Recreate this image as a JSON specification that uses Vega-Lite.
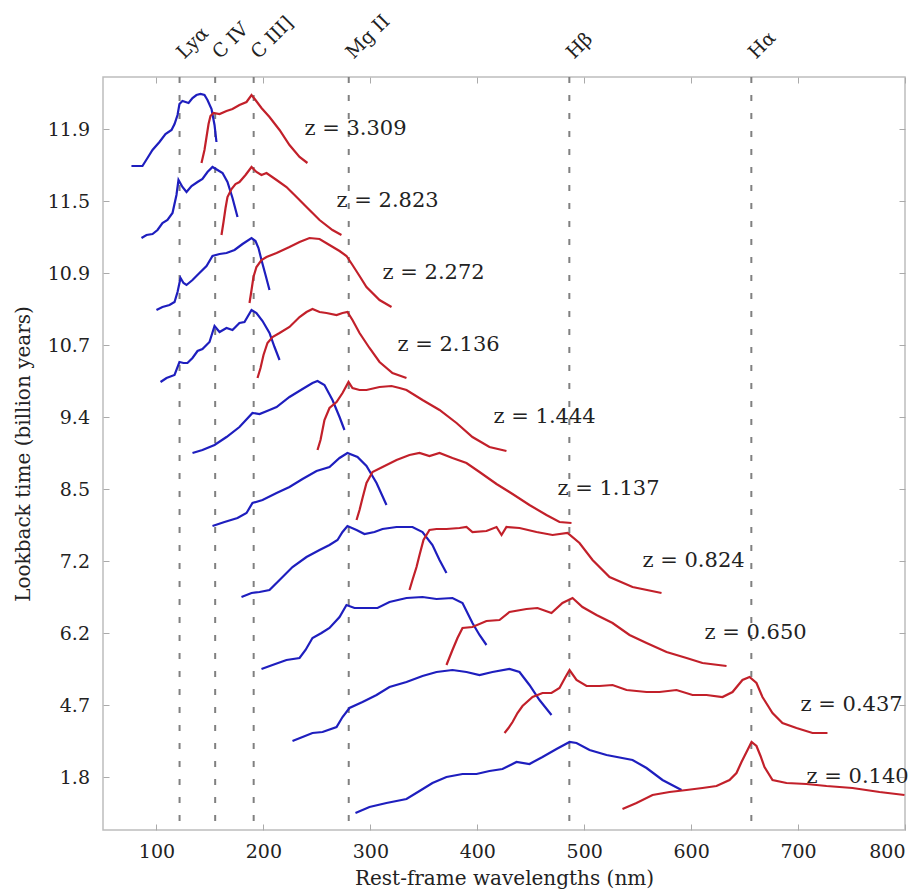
{
  "$schema": "https://vega.github.io/schema/vega-lite/v6.json",
  "width": 802,
  "height": 753,
  "autosize": {"type": "none"},
  "padding": {"left": 103, "top": 77, "right": 18, "bottom": 64},
  "background": "white",
  "config": {
    "view": {"stroke": "#bdbdbd", "strokeWidth": 1.5},
    "font": "DejaVu Serif",
    "axis": {
      "grid": false, "domain": false, "tickColor": "#aaaaaa", "tickSize": -6, "tickWidth": 1,
      "labelFont": "DejaVu Serif", "titleFont": "DejaVu Serif", "labelColor": "#222222", "titleColor": "#222222",
      "labelFontSize": 19, "titleFontSize": 20, "titleFontWeight": "normal"
    }
  },
  "datasets": {
    "ions": [
      {"ion": "Lyα", "wl": 121.6}, {"ion": "C IV", "wl": 154.9}, {"ion": "C III]", "wl": 190.9},
      {"ion": "Mg II", "wl": 279.8}, {"ion": "Hβ", "wl": 486.1}, {"ion": "Hα", "wl": 656.3}
    ],
    "labels": [
      {"label": "z = 3.309", "wl": 238.4, "flux": 701},
      {"label": "z = 2.823", "wl": 268.4, "flux": 629},
      {"label": "z = 2.272", "wl": 311.4, "flux": 557},
      {"label": "z = 2.136", "wl": 325.4, "flux": 485},
      {"label": "z = 1.444", "wl": 415.2, "flux": 413},
      {"label": "z = 1.137", "wl": 475.0, "flux": 341},
      {"label": "z = 0.824", "wl": 554.5, "flux": 269},
      {"label": "z = 0.650", "wl": 612.5, "flux": 197},
      {"label": "z = 0.437", "wl": 702.3, "flux": 125},
      {"label": "z = 0.140", "wl": 707.9, "flux": 53}
    ],
    "spectra": [
      {"z":"3.309","band":"blue","wl":76.6,"flux":664},{"z":"3.309","band":"blue","wl":86.9,"flux":664},{"z":"3.309","band":"blue","wl":91.6,"flux":672},{"z":"3.309","band":"blue","wl":96.3,"flux":680},{"z":"3.309","band":"blue","wl":102.8,"flux":688},{"z":"3.309","band":"blue","wl":108.4,"flux":696},{"z":"3.309","band":"blue","wl":114.1,"flux":700},{"z":"3.309","band":"blue","wl":116.9,"flux":706},{"z":"3.309","band":"blue","wl":119.7,"flux":715},{"z":"3.309","band":"blue","wl":121.5,"flux":726},{"z":"3.309","band":"blue","wl":124.3,"flux":729},{"z":"3.309","band":"blue","wl":127.2,"flux":728},{"z":"3.309","band":"blue","wl":130.0,"flux":727},{"z":"3.309","band":"blue","wl":133.7,"flux":732},{"z":"3.309","band":"blue","wl":137.4,"flux":735},{"z":"3.309","band":"blue","wl":141.2,"flux":736},{"z":"3.309","band":"blue","wl":144.9,"flux":735},{"z":"3.309","band":"blue","wl":147.7,"flux":730},{"z":"3.309","band":"blue","wl":151.5,"flux":721},{"z":"3.309","band":"blue","wl":154.3,"flux":705},{"z":"3.309","band":"blue","wl":156.1,"flux":688},
      {"z":"3.309","band":"red","wl":142.1,"flux":667},{"z":"3.309","band":"red","wl":144.9,"flux":680},{"z":"3.309","band":"red","wl":146.8,"flux":693},{"z":"3.309","band":"red","wl":148.7,"flux":706},{"z":"3.309","band":"red","wl":150.5,"flux":714},{"z":"3.309","band":"red","wl":153.3,"flux":717},{"z":"3.309","band":"red","wl":159.0,"flux":716},{"z":"3.309","band":"red","wl":165.5,"flux":719},{"z":"3.309","band":"red","wl":171.1,"flux":721},{"z":"3.309","band":"red","wl":177.6,"flux":725},{"z":"3.309","band":"red","wl":184.2,"flux":728},{"z":"3.309","band":"red","wl":188.9,"flux":735},{"z":"3.309","band":"red","wl":192.6,"flux":730},{"z":"3.309","band":"red","wl":198.2,"flux":722},{"z":"3.309","band":"red","wl":205.7,"flux":713},{"z":"3.309","band":"red","wl":215.1,"flux":700},{"z":"3.309","band":"red","wl":224.4,"flux":685},{"z":"3.309","band":"red","wl":233.8,"flux":673},{"z":"3.309","band":"red","wl":241.2,"flux":667},

      {"z":"2.823","band":"blue","wl":86.0,"flux":592},{"z":"2.823","band":"blue","wl":90.7,"flux":595},{"z":"2.823","band":"blue","wl":96.3,"flux":596},{"z":"2.823","band":"blue","wl":101.0,"flux":600},{"z":"2.823","band":"blue","wl":105.6,"flux":607},{"z":"2.823","band":"blue","wl":110.3,"flux":610},{"z":"2.823","band":"blue","wl":115.0,"flux":617},{"z":"2.823","band":"blue","wl":118.7,"flux":635},{"z":"2.823","band":"blue","wl":120.6,"flux":650},{"z":"2.823","band":"blue","wl":124.3,"flux":643},{"z":"2.823","band":"blue","wl":128.1,"flux":638},{"z":"2.823","band":"blue","wl":132.8,"flux":644},{"z":"2.823","band":"blue","wl":138.4,"flux":648},{"z":"2.823","band":"blue","wl":143.0,"flux":651},{"z":"2.823","band":"blue","wl":147.7,"flux":658},{"z":"2.823","band":"blue","wl":152.4,"flux":663},{"z":"2.823","band":"blue","wl":157.1,"flux":660},{"z":"2.823","band":"blue","wl":161.8,"flux":657},{"z":"2.823","band":"blue","wl":166.4,"flux":648},{"z":"2.823","band":"blue","wl":171.1,"flux":632},{"z":"2.823","band":"blue","wl":175.8,"flux":613},
      {"z":"2.823","band":"red","wl":160.8,"flux":595},{"z":"2.823","band":"red","wl":162.7,"flux":608},{"z":"2.823","band":"red","wl":164.6,"flux":622},{"z":"2.823","band":"red","wl":166.4,"flux":633},{"z":"2.823","band":"red","wl":170.2,"flux":641},{"z":"2.823","band":"red","wl":173.9,"flux":646},{"z":"2.823","band":"red","wl":177.6,"flux":648},{"z":"2.823","band":"red","wl":183.3,"flux":655},{"z":"2.823","band":"red","wl":188.9,"flux":663},{"z":"2.823","band":"red","wl":193.5,"flux":658},{"z":"2.823","band":"red","wl":198.2,"flux":655},{"z":"2.823","band":"red","wl":202.9,"flux":657},{"z":"2.823","band":"red","wl":212.3,"flux":650},{"z":"2.823","band":"red","wl":221.6,"flux":643},{"z":"2.823","band":"red","wl":231.0,"flux":633},{"z":"2.823","band":"red","wl":240.3,"flux":623},{"z":"2.823","band":"red","wl":252.5,"flux":610},{"z":"2.823","band":"red","wl":264.6,"flux":600},{"z":"2.823","band":"red","wl":273.0,"flux":595},

      {"z":"2.272","band":"blue","wl":100.0,"flux":520},{"z":"2.272","band":"blue","wl":105.6,"flux":523},{"z":"2.272","band":"blue","wl":112.2,"flux":525},{"z":"2.272","band":"blue","wl":116.9,"flux":528},{"z":"2.272","band":"blue","wl":119.7,"flux":538},{"z":"2.272","band":"blue","wl":122.5,"flux":552},{"z":"2.272","band":"blue","wl":125.3,"flux":547},{"z":"2.272","band":"blue","wl":128.1,"flux":545},{"z":"2.272","band":"blue","wl":133.7,"flux":550},{"z":"2.272","band":"blue","wl":140.2,"flux":557},{"z":"2.272","band":"blue","wl":146.8,"flux":564},{"z":"2.272","band":"blue","wl":152.4,"flux":574},{"z":"2.272","band":"blue","wl":159.0,"flux":576},{"z":"2.272","band":"blue","wl":165.5,"flux":577},{"z":"2.272","band":"blue","wl":173.0,"flux":580},{"z":"2.272","band":"blue","wl":180.5,"flux":586},{"z":"2.272","band":"blue","wl":188.9,"flux":592},{"z":"2.272","band":"blue","wl":192.6,"flux":589},{"z":"2.272","band":"blue","wl":195.4,"flux":582},{"z":"2.272","band":"blue","wl":198.2,"flux":570},{"z":"2.272","band":"blue","wl":202.0,"flux":555},{"z":"2.272","band":"blue","wl":205.7,"flux":540},
      {"z":"2.272","band":"red","wl":187.0,"flux":527},{"z":"2.272","band":"red","wl":188.9,"flux":540},{"z":"2.272","band":"red","wl":190.7,"flux":553},{"z":"2.272","band":"red","wl":193.5,"flux":563},{"z":"2.272","band":"red","wl":198.2,"flux":570},{"z":"2.272","band":"red","wl":202.9,"flux":573},{"z":"2.272","band":"red","wl":212.3,"flux":577},{"z":"2.272","band":"red","wl":224.4,"flux":583},{"z":"2.272","band":"red","wl":233.8,"flux":588},{"z":"2.272","band":"red","wl":243.1,"flux":592},{"z":"2.272","band":"red","wl":252.5,"flux":591},{"z":"2.272","band":"red","wl":261.8,"flux":585},{"z":"2.272","band":"red","wl":271.2,"flux":579},{"z":"2.272","band":"red","wl":277.7,"flux":574},{"z":"2.272","band":"red","wl":283.3,"flux":565},{"z":"2.272","band":"red","wl":289.9,"flux":554},{"z":"2.272","band":"red","wl":296.4,"flux":543},{"z":"2.272","band":"red","wl":308.6,"flux":530},{"z":"2.272","band":"red","wl":319.8,"flux":523},

      {"z":"2.136","band":"blue","wl":103.8,"flux":448},{"z":"2.136","band":"blue","wl":109.4,"flux":452},{"z":"2.136","band":"blue","wl":116.9,"flux":455},{"z":"2.136","band":"blue","wl":121.5,"flux":468},{"z":"2.136","band":"blue","wl":125.3,"flux":467},{"z":"2.136","band":"blue","wl":129.0,"flux":467},{"z":"2.136","band":"blue","wl":133.7,"flux":472},{"z":"2.136","band":"blue","wl":138.4,"flux":479},{"z":"2.136","band":"blue","wl":143.0,"flux":481},{"z":"2.136","band":"blue","wl":149.6,"flux":488},{"z":"2.136","band":"blue","wl":154.3,"flux":504},{"z":"2.136","band":"blue","wl":159.0,"flux":498},{"z":"2.136","band":"blue","wl":165.5,"flux":502},{"z":"2.136","band":"blue","wl":171.1,"flux":500},{"z":"2.136","band":"blue","wl":177.6,"flux":507},{"z":"2.136","band":"blue","wl":182.3,"flux":508},{"z":"2.136","band":"blue","wl":188.9,"flux":520},{"z":"2.136","band":"blue","wl":193.5,"flux":517},{"z":"2.136","band":"blue","wl":199.2,"flux":509},{"z":"2.136","band":"blue","wl":205.7,"flux":497},{"z":"2.136","band":"blue","wl":210.4,"flux":483},{"z":"2.136","band":"blue","wl":215.1,"flux":470},
      {"z":"2.136","band":"red","wl":194.5,"flux":452},{"z":"2.136","band":"red","wl":197.3,"flux":462},{"z":"2.136","band":"red","wl":200.1,"flux":475},{"z":"2.136","band":"red","wl":203.8,"flux":487},{"z":"2.136","band":"red","wl":208.5,"flux":493},{"z":"2.136","band":"red","wl":215.1,"flux":497},{"z":"2.136","band":"red","wl":224.4,"flux":503},{"z":"2.136","band":"red","wl":233.8,"flux":513},{"z":"2.136","band":"red","wl":240.3,"flux":518},{"z":"2.136","band":"red","wl":245.9,"flux":521},{"z":"2.136","band":"red","wl":252.5,"flux":518},{"z":"2.136","band":"red","wl":259.0,"flux":517},{"z":"2.136","band":"red","wl":268.4,"flux":515},{"z":"2.136","band":"red","wl":274.0,"flux":517},{"z":"2.136","band":"red","wl":278.6,"flux":518},{"z":"2.136","band":"red","wl":283.3,"flux":510},{"z":"2.136","band":"red","wl":289.9,"flux":497},{"z":"2.136","band":"red","wl":299.2,"flux":482},{"z":"2.136","band":"red","wl":308.6,"flux":468},{"z":"2.136","band":"red","wl":320.7,"flux":457},{"z":"2.136","band":"red","wl":333.8,"flux":452},

      {"z":"1.444","band":"blue","wl":133.7,"flux":377},{"z":"1.444","band":"blue","wl":143.0,"flux":380},{"z":"1.444","band":"blue","wl":154.3,"flux":385},{"z":"1.444","band":"blue","wl":165.5,"flux":393},{"z":"1.444","band":"blue","wl":177.6,"flux":403},{"z":"1.444","band":"blue","wl":189.8,"flux":417},{"z":"1.444","band":"blue","wl":196.4,"flux":416},{"z":"1.444","band":"blue","wl":205.7,"flux":420},{"z":"1.444","band":"blue","wl":212.3,"flux":423},{"z":"1.444","band":"blue","wl":224.4,"flux":433},{"z":"1.444","band":"blue","wl":236.6,"flux":441},{"z":"1.444","band":"blue","wl":245.9,"flux":447},{"z":"1.444","band":"blue","wl":250.6,"flux":449},{"z":"1.444","band":"blue","wl":257.1,"flux":445},{"z":"1.444","band":"blue","wl":264.6,"flux":430},{"z":"1.444","band":"blue","wl":271.2,"flux":413},{"z":"1.444","band":"blue","wl":275.8,"flux":400},
      {"z":"1.444","band":"red","wl":250.6,"flux":380},{"z":"1.444","band":"red","wl":253.4,"flux":390},{"z":"1.444","band":"red","wl":257.1,"flux":410},{"z":"1.444","band":"red","wl":261.8,"flux":422},{"z":"1.444","band":"red","wl":268.4,"flux":428},{"z":"1.444","band":"red","wl":274.0,"flux":437},{"z":"1.444","band":"red","wl":279.6,"flux":448},{"z":"1.444","band":"red","wl":283.3,"flux":442},{"z":"1.444","band":"red","wl":289.9,"flux":440},{"z":"1.444","band":"red","wl":296.4,"flux":440},{"z":"1.444","band":"red","wl":308.6,"flux":443},{"z":"1.444","band":"red","wl":319.8,"flux":444},{"z":"1.444","band":"red","wl":327.3,"flux":442},{"z":"1.444","band":"red","wl":333.8,"flux":440},{"z":"1.444","band":"red","wl":348.8,"flux":430},{"z":"1.444","band":"red","wl":364.7,"flux":420},{"z":"1.444","band":"red","wl":380.6,"flux":407},{"z":"1.444","band":"red","wl":395.5,"flux":393},{"z":"1.444","band":"red","wl":411.4,"flux":383},{"z":"1.444","band":"red","wl":427.3,"flux":379},

      {"z":"1.137","band":"blue","wl":152.4,"flux":304},{"z":"1.137","band":"blue","wl":163.6,"flux":308},{"z":"1.137","band":"blue","wl":175.8,"flux":312},{"z":"1.137","band":"blue","wl":184.2,"flux":317},{"z":"1.137","band":"blue","wl":189.8,"flux":327},{"z":"1.137","band":"blue","wl":199.2,"flux":330},{"z":"1.137","band":"blue","wl":212.3,"flux":337},{"z":"1.137","band":"blue","wl":224.4,"flux":343},{"z":"1.137","band":"blue","wl":236.6,"flux":351},{"z":"1.137","band":"blue","wl":249.7,"flux":359},{"z":"1.137","band":"blue","wl":261.8,"flux":363},{"z":"1.137","band":"blue","wl":271.2,"flux":372},{"z":"1.137","band":"blue","wl":278.6,"flux":377},{"z":"1.137","band":"blue","wl":288.0,"flux":373},{"z":"1.137","band":"blue","wl":296.4,"flux":364},{"z":"1.137","band":"blue","wl":305.8,"flux":347},{"z":"1.137","band":"blue","wl":315.1,"flux":325},
      {"z":"1.137","band":"red","wl":287.1,"flux":310},{"z":"1.137","band":"red","wl":289.9,"flux":320},{"z":"1.137","band":"red","wl":292.7,"flux":332},{"z":"1.137","band":"red","wl":296.4,"flux":347},{"z":"1.137","band":"red","wl":302.0,"flux":358},{"z":"1.137","band":"red","wl":311.4,"flux":363},{"z":"1.137","band":"red","wl":324.5,"flux":370},{"z":"1.137","band":"red","wl":336.6,"flux":375},{"z":"1.137","band":"red","wl":346.0,"flux":377},{"z":"1.137","band":"red","wl":355.3,"flux":374},{"z":"1.137","band":"red","wl":364.7,"flux":377},{"z":"1.137","band":"red","wl":376.8,"flux":372},{"z":"1.137","band":"red","wl":389.9,"flux":367},{"z":"1.137","band":"red","wl":402.1,"flux":358},{"z":"1.137","band":"red","wl":418.0,"flux":346},{"z":"1.137","band":"red","wl":433.0,"flux":336},{"z":"1.137","band":"red","wl":448.8,"flux":325},{"z":"1.137","band":"red","wl":464.7,"flux":315},{"z":"1.137","band":"red","wl":476.9,"flux":308},{"z":"1.137","band":"red","wl":488.1,"flux":307},

      {"z":"0.824","band":"blue","wl":179.5,"flux":233},{"z":"0.824","band":"blue","wl":188.9,"flux":237},{"z":"0.824","band":"blue","wl":196.4,"flux":238},{"z":"0.824","band":"blue","wl":205.7,"flux":240},{"z":"0.824","band":"blue","wl":215.1,"flux":250},{"z":"0.824","band":"blue","wl":227.2,"flux":263},{"z":"0.824","band":"blue","wl":240.3,"flux":273},{"z":"0.824","band":"blue","wl":252.5,"flux":280},{"z":"0.824","band":"blue","wl":261.8,"flux":285},{"z":"0.824","band":"blue","wl":269.3,"flux":290},{"z":"0.824","band":"blue","wl":274.0,"flux":298},{"z":"0.824","band":"blue","wl":278.6,"flux":304},{"z":"0.824","band":"blue","wl":287.1,"flux":300},{"z":"0.824","band":"blue","wl":294.5,"flux":296},{"z":"0.824","band":"blue","wl":303.9,"flux":298},{"z":"0.824","band":"blue","wl":311.4,"flux":301},{"z":"0.824","band":"blue","wl":324.5,"flux":303},{"z":"0.824","band":"blue","wl":339.4,"flux":303},{"z":"0.824","band":"blue","wl":348.8,"flux":298},{"z":"0.824","band":"blue","wl":358.1,"flux":285},{"z":"0.824","band":"blue","wl":364.7,"flux":270},{"z":"0.824","band":"blue","wl":371.2,"flux":257},
      {"z":"0.824","band":"red","wl":336.6,"flux":240},{"z":"0.824","band":"red","wl":339.4,"flux":250},{"z":"0.824","band":"red","wl":343.2,"flux":263},{"z":"0.824","band":"red","wl":346.0,"flux":275},{"z":"0.824","band":"red","wl":349.7,"flux":290},{"z":"0.824","band":"red","wl":355.3,"flux":300},{"z":"0.824","band":"red","wl":361.9,"flux":301},{"z":"0.824","band":"red","wl":371.2,"flux":301},{"z":"0.824","band":"red","wl":383.4,"flux":302},{"z":"0.824","band":"red","wl":389.9,"flux":303},{"z":"0.824","band":"red","wl":395.5,"flux":298},{"z":"0.824","band":"red","wl":408.6,"flux":299},{"z":"0.824","band":"red","wl":418.0,"flux":303},{"z":"0.824","band":"red","wl":422.7,"flux":295},{"z":"0.824","band":"red","wl":427.3,"flux":303},{"z":"0.824","band":"red","wl":439.5,"flux":302},{"z":"0.824","band":"red","wl":455.4,"flux":298},{"z":"0.824","band":"red","wl":470.4,"flux":295},{"z":"0.824","band":"red","wl":484.4,"flux":297},{"z":"0.824","band":"red","wl":495.6,"flux":287},{"z":"0.824","band":"red","wl":507.8,"flux":270},{"z":"0.824","band":"red","wl":523.7,"flux":253},{"z":"0.824","band":"red","wl":545.2,"flux":243},{"z":"0.824","band":"red","wl":572.3,"flux":237},

      {"z":"0.650","band":"blue","wl":198.2,"flux":161},{"z":"0.650","band":"blue","wl":208.5,"flux":165},{"z":"0.650","band":"blue","wl":221.6,"flux":170},{"z":"0.650","band":"blue","wl":233.8,"flux":172},{"z":"0.650","band":"blue","wl":239.4,"flux":180},{"z":"0.650","band":"blue","wl":245.9,"flux":192},{"z":"0.650","band":"blue","wl":254.3,"flux":197},{"z":"0.650","band":"blue","wl":261.8,"flux":202},{"z":"0.650","band":"blue","wl":271.2,"flux":213},{"z":"0.650","band":"blue","wl":277.7,"flux":225},{"z":"0.650","band":"blue","wl":285.2,"flux":222},{"z":"0.650","band":"blue","wl":296.4,"flux":222},{"z":"0.650","band":"blue","wl":306.7,"flux":222},{"z":"0.650","band":"blue","wl":317.9,"flux":228},{"z":"0.650","band":"blue","wl":333.8,"flux":232},{"z":"0.650","band":"blue","wl":348.8,"flux":233},{"z":"0.650","band":"blue","wl":361.9,"flux":231},{"z":"0.650","band":"blue","wl":376.8,"flux":232},{"z":"0.650","band":"blue","wl":386.2,"flux":227},{"z":"0.650","band":"blue","wl":395.5,"flux":207},{"z":"0.650","band":"blue","wl":402.1,"flux":195},{"z":"0.650","band":"blue","wl":408.6,"flux":185},
      {"z":"0.650","band":"red","wl":371.2,"flux":165},{"z":"0.650","band":"red","wl":376.8,"flux":180},{"z":"0.650","band":"red","wl":381.5,"flux":192},{"z":"0.650","band":"red","wl":386.2,"flux":202},{"z":"0.650","band":"red","wl":395.5,"flux":203},{"z":"0.650","band":"red","wl":408.6,"flux":209},{"z":"0.650","band":"red","wl":420.8,"flux":210},{"z":"0.650","band":"red","wl":430.1,"flux":218},{"z":"0.650","band":"red","wl":446.0,"flux":221},{"z":"0.650","band":"red","wl":456.3,"flux":222},{"z":"0.650","band":"red","wl":469.4,"flux":217},{"z":"0.650","band":"red","wl":479.7,"flux":227},{"z":"0.650","band":"red","wl":489.1,"flux":232},{"z":"0.650","band":"red","wl":498.4,"flux":223},{"z":"0.650","band":"red","wl":511.5,"flux":215},{"z":"0.650","band":"red","wl":526.5,"flux":207},{"z":"0.650","band":"red","wl":542.4,"flux":195},{"z":"0.650","band":"red","wl":558.3,"flux":187},{"z":"0.650","band":"red","wl":577.0,"flux":178},{"z":"0.650","band":"red","wl":595.7,"flux":172},{"z":"0.650","band":"red","wl":610.6,"flux":167},{"z":"0.650","band":"red","wl":633.1,"flux":164},

      {"z":"0.437","band":"blue","wl":227.2,"flux":89},{"z":"0.437","band":"blue","wl":236.6,"flux":93},{"z":"0.437","band":"blue","wl":245.9,"flux":97},{"z":"0.437","band":"blue","wl":255.3,"flux":98},{"z":"0.437","band":"blue","wl":268.4,"flux":103},{"z":"0.437","band":"blue","wl":274.0,"flux":113},{"z":"0.437","band":"blue","wl":280.5,"flux":122},{"z":"0.437","band":"blue","wl":292.7,"flux":128},{"z":"0.437","band":"blue","wl":305.8,"flux":135},{"z":"0.437","band":"blue","wl":317.9,"flux":143},{"z":"0.437","band":"blue","wl":333.8,"flux":148},{"z":"0.437","band":"blue","wl":348.8,"flux":154},{"z":"0.437","band":"blue","wl":361.9,"flux":158},{"z":"0.437","band":"blue","wl":376.8,"flux":160},{"z":"0.437","band":"blue","wl":389.9,"flux":158},{"z":"0.437","band":"blue","wl":402.1,"flux":155},{"z":"0.437","band":"blue","wl":414.2,"flux":158},{"z":"0.437","band":"blue","wl":430.1,"flux":161},{"z":"0.437","band":"blue","wl":439.5,"flux":158},{"z":"0.437","band":"blue","wl":448.8,"flux":145},{"z":"0.437","band":"blue","wl":458.2,"flux":130},{"z":"0.437","band":"blue","wl":469.4,"flux":115},
      {"z":"0.437","band":"red","wl":425.5,"flux":97},{"z":"0.437","band":"red","wl":429.2,"flux":102},{"z":"0.437","band":"red","wl":433.0,"flux":108},{"z":"0.437","band":"red","wl":437.6,"flux":117},{"z":"0.437","band":"red","wl":442.3,"flux":124},{"z":"0.437","band":"red","wl":451.7,"flux":133},{"z":"0.437","band":"red","wl":461.0,"flux":137},{"z":"0.437","band":"red","wl":469.4,"flux":137},{"z":"0.437","band":"red","wl":476.9,"flux":142},{"z":"0.437","band":"red","wl":482.5,"flux":153},{"z":"0.437","band":"red","wl":486.3,"flux":160},{"z":"0.437","band":"red","wl":492.8,"flux":150},{"z":"0.437","band":"red","wl":502.2,"flux":144},{"z":"0.437","band":"red","wl":514.3,"flux":144},{"z":"0.437","band":"red","wl":526.5,"flux":145},{"z":"0.437","band":"red","wl":539.6,"flux":140},{"z":"0.437","band":"red","wl":558.3,"flux":138},{"z":"0.437","band":"red","wl":570.4,"flux":138},{"z":"0.437","band":"red","wl":586.3,"flux":140},{"z":"0.437","band":"red","wl":601.3,"flux":135},{"z":"0.437","band":"red","wl":614.4,"flux":135},{"z":"0.437","band":"red","wl":629.3,"flux":133},{"z":"0.437","band":"red","wl":638.7,"flux":138},{"z":"0.437","band":"red","wl":648.0,"flux":150},{"z":"0.437","band":"red","wl":654.6,"flux":153},{"z":"0.437","band":"red","wl":661.1,"flux":147},{"z":"0.437","band":"red","wl":666.7,"flux":133},{"z":"0.437","band":"red","wl":676.1,"flux":117},{"z":"0.437","band":"red","wl":685.4,"flux":107},{"z":"0.437","band":"red","wl":698.5,"flux":102},{"z":"0.437","band":"red","wl":713.5,"flux":97},{"z":"0.437","band":"red","wl":727.5,"flux":97},

      {"z":"0.140","band":"blue","wl":286.1,"flux":17},{"z":"0.140","band":"blue","wl":299.2,"flux":23},{"z":"0.140","band":"blue","wl":315.1,"flux":27},{"z":"0.140","band":"blue","wl":333.8,"flux":31},{"z":"0.140","band":"blue","wl":346.0,"flux":39},{"z":"0.140","band":"blue","wl":358.1,"flux":47},{"z":"0.140","band":"blue","wl":371.2,"flux":53},{"z":"0.140","band":"blue","wl":386.2,"flux":56},{"z":"0.140","band":"blue","wl":399.3,"flux":56},{"z":"0.140","band":"blue","wl":411.4,"flux":59},{"z":"0.140","band":"blue","wl":423.6,"flux":61},{"z":"0.140","band":"blue","wl":436.7,"flux":68},{"z":"0.140","band":"blue","wl":448.8,"flux":66},{"z":"0.140","band":"blue","wl":461.0,"flux":73},{"z":"0.140","band":"blue","wl":474.1,"flux":81},{"z":"0.140","band":"blue","wl":486.3,"flux":88},{"z":"0.140","band":"blue","wl":492.8,"flux":87},{"z":"0.140","band":"blue","wl":505.0,"flux":80},{"z":"0.140","band":"blue","wl":520.9,"flux":75},{"z":"0.140","band":"blue","wl":545.2,"flux":70},{"z":"0.140","band":"blue","wl":558.3,"flux":62},{"z":"0.140","band":"blue","wl":573.2,"flux":50},{"z":"0.140","band":"blue","wl":591.0,"flux":40},
      {"z":"0.140","band":"red","wl":535.8,"flux":21},{"z":"0.140","band":"red","wl":548.9,"flux":27},{"z":"0.140","band":"red","wl":563.9,"flux":35},{"z":"0.140","band":"red","wl":579.8,"flux":38},{"z":"0.140","band":"red","wl":595.7,"flux":40},{"z":"0.140","band":"red","wl":610.6,"flux":42},{"z":"0.140","band":"red","wl":623.7,"flux":44},{"z":"0.140","band":"red","wl":635.9,"flux":50},{"z":"0.140","band":"red","wl":642.4,"flux":57},{"z":"0.140","band":"red","wl":647.1,"flux":68},{"z":"0.140","band":"red","wl":651.8,"flux":78},{"z":"0.140","band":"red","wl":656.5,"flux":88},{"z":"0.140","band":"red","wl":661.1,"flux":84},{"z":"0.140","band":"red","wl":664.9,"flux":74},{"z":"0.140","band":"red","wl":668.6,"flux":63},{"z":"0.140","band":"red","wl":676.1,"flux":50},{"z":"0.140","band":"red","wl":689.2,"flux":47},{"z":"0.140","band":"red","wl":707.9,"flux":46},{"z":"0.140","band":"red","wl":726.6,"flux":44},{"z":"0.140","band":"red","wl":750.9,"flux":42},{"z":"0.140","band":"red","wl":776.2,"flux":38},{"z":"0.140","band":"red","wl":799.5,"flux":35}
    ]
  },
  "resolve": {"axis": {"x": "independent", "y": "independent"}},
  "layer": [
    {
      "data": {"name": "ions"},
      "mark": {"type": "rule", "color": "#808080", "strokeWidth": 2, "strokeDash": [6, 12]},
      "encoding": {
        "x": {"field": "wl", "type": "quantitative", "scale": {"domain": [50, 800], "nice": false, "zero": false},
              "axis": {"orient": "top", "title": null, "ticks": false, "values": [121.6, 154.9, 190.9, 279.8, 486.1, 656.3],
                       "labelExpr": "datum.value < 130 ? 'Lyα' : datum.value < 170 ? 'C IV' : datum.value < 200 ? 'C III]' : datum.value < 300 ? 'Mg II' : datum.value < 500 ? 'Hβ' : 'Hα'",
                       "labelAngle": -45, "labelAlign": "left", "labelBaseline": "middle", "labelPadding": 22, "labelOverlap": false, "labelBound": false, "labelFlush": false}}
      }
    },
    {
      "data": {"name": "spectra"},
      "mark": {"type": "line", "strokeWidth": 2.2},
      "encoding": {
        "x": {"field": "wl", "type": "quantitative", "scale": {"domain": [50, 800], "nice": false, "zero": false},
              "axis": {"orient": "bottom", "title": "Rest-frame wavelengths (nm)", "values": [100, 200, 300, 400, 500, 600, 700, 800], "labelPadding": 18, "titlePadding": 7}},
        "y": {"field": "flux", "type": "quantitative", "scale": {"domain": [0, 753], "nice": false, "zero": false},
              "axis": {"orient": "left", "title": "Lookback time (billion years)", "values": [53, 125, 197, 269, 341, 413, 485, 557, 629, 701],
                       "labelExpr": "['1.8','4.7','6.2','7.2','8.5','9.4','10.7','10.9','11.5','11.9'][round((datum.value-53)/72)]",
                       "labelPadding": 19.5, "titlePadding": 14}},
        "color": {"field": "band", "type": "nominal", "scale": {"domain": ["blue", "red"], "range": ["#1e1ebe", "#c2202a"]}, "legend": null},
        "detail": {"field": "z", "type": "nominal"}
      }
    },
    {
      "data": {"name": "labels"},
      "mark": {"type": "text", "align": "left", "baseline": "middle", "fontSize": 21, "font": "DejaVu Serif", "color": "#222222"},
      "encoding": {
        "x": {"field": "wl", "type": "quantitative", "scale": {"domain": [50, 800], "nice": false, "zero": false},
              "axis": {"orient": "top", "labels": false, "title": null, "values": [100, 200, 300, 400, 500, 600, 700, 800]}},
        "y": {"field": "flux", "type": "quantitative", "scale": {"domain": [0, 753], "nice": false, "zero": false},
              "axis": {"orient": "right", "labels": false, "title": null, "values": [53, 125, 197, 269, 341, 413, 485, 557, 629, 701]}},
        "text": {"field": "label"}
      }
    }
  ]
}
